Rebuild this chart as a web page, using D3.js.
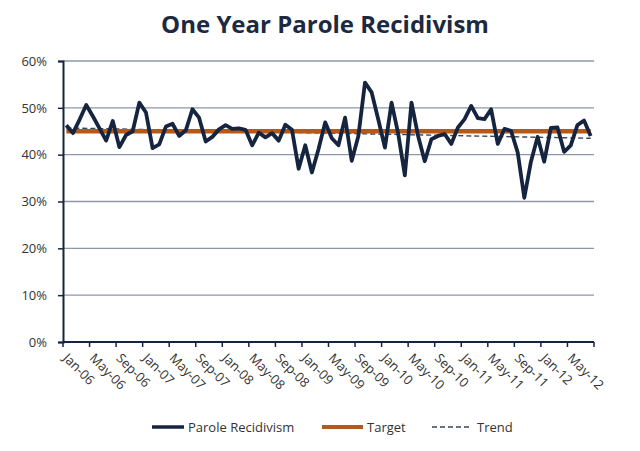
<!DOCTYPE html>
<html><head><meta charset="utf-8">
<script src="https://cdn.jsdelivr.net/npm/d3@7"></script>
<style>
html,body{margin:0;padding:0;background:#fff;}
svg{display:block;font-family:"Open Sans","Noto Sans",sans-serif;}
</style></head>
<body><svg id="c" width="640" height="451"></svg>
<script>
const months = [
"Jan-06","Feb-06","Mar-06","Apr-06","May-06","Jun-06","Jul-06","Aug-06","Sep-06","Oct-06","Nov-06","Dec-06",
"Jan-07","Feb-07","Mar-07","Apr-07","May-07","Jun-07","Jul-07","Aug-07","Sep-07","Oct-07","Nov-07","Dec-07",
"Jan-08","Feb-08","Mar-08","Apr-08","May-08","Jun-08","Jul-08","Aug-08","Sep-08","Oct-08","Nov-08","Dec-08",
"Jan-09","Feb-09","Mar-09","Apr-09","May-09","Jun-09","Jul-09","Aug-09","Sep-09","Oct-09","Nov-09","Dec-09",
"Jan-10","Feb-10","Mar-10","Apr-10","May-10","Jun-10","Jul-10","Aug-10","Sep-10","Oct-10","Nov-10","Dec-10",
"Jan-11","Feb-11","Mar-11","Apr-11","May-11","Jun-11","Jul-11","Aug-11","Sep-11","Oct-11","Nov-11","Dec-11",
"Jan-12","Feb-12","Mar-12","Apr-12","May-12","Jun-12","Jul-12","Aug-12"];
const recidivism = [
46.3,44.6,47.5,50.6,48.2,45.6,43.0,47.2,41.6,44.2,45.0,51.1,
49.0,41.4,42.2,46.0,46.6,44.0,45.2,49.7,47.9,42.8,43.8,45.4,
46.3,45.5,45.6,45.3,42.0,44.7,43.7,44.6,43.0,46.4,45.3,37.0,
42.0,36.2,41.2,46.9,43.5,42.0,47.9,38.7,44.0,55.4,53.3,47.5,
41.5,51.1,44.5,35.6,51.1,44.0,38.6,43.3,44.0,44.4,42.3,45.8,
47.6,50.4,47.8,47.6,49.7,42.3,45.5,45.1,40.5,30.8,38.5,43.8,
38.5,45.7,45.8,40.6,42.0,46.3,47.3,44.0];
const targetValue = [45];
const trendEnds = [45.7, 43.5];
const yTicks = [0,10,20,30,40,50,60];
const xLabels = ["Jan-06","May-06","Sep-06","Jan-07","May-07","Sep-07","Jan-08","May-08","Sep-08","Jan-09","May-09","Sep-09","Jan-10","May-10","Sep-10","Jan-11","May-11","Sep-11","Jan-12","May-12"];
const legendItems = ["Parole Recidivism","Target","Trend"];

const svg = d3.select("#c");
const L=63,R=594,T=61,B=342;
const navy="#16253f", orange="#b5591a", grid="#8d97a6";
const x = d3.scaleBand().domain(months).range([L,R]).paddingInner(0).paddingOuter(0);
const xc = d => x(d)+x.bandwidth()/2;
const y = d3.scaleLinear().domain([0,60]).range([B,T]);

svg.append("text").attr("x",325).attr("y",33).attr("text-anchor","middle")
  .attr("font-size",24).attr("font-weight",700).attr("fill","#1c2940")
  .text("One Year Parole Recidivism");

// gridlines
svg.append("g").selectAll("line").data(yTicks.filter(d=>d>0)).join("line")
  .attr("x1",L).attr("x2",R).attr("y1",d=>y(d)).attr("y2",d=>y(d))
  .attr("stroke",grid).attr("stroke-width",1.3);

// y axis
const ya = svg.append("g").attr("transform",`translate(${L},0)`)
  .call(d3.axisLeft(y).tickValues(yTicks).tickFormat(d=>d+"%").tickSize(5).tickPadding(11));
ya.select(".domain").attr("stroke",navy).attr("stroke-width",2);
ya.selectAll(".tick line").attr("stroke",navy).attr("stroke-width",1.5);
ya.selectAll("text").attr("font-size",13).attr("fill","#333").attr("font-family","Open Sans, sans-serif");

// x axis
const xa = svg.append("g").attr("transform",`translate(0,${B})`);
xa.append("line").attr("x1",L).attr("x2",R).attr("stroke",navy).attr("stroke-width",2);
const tickPos = months.filter((d,i)=>i%4===0).map(d=>x(d)).concat([R]);
xa.selectAll("line.t").data(tickPos).join("line").attr("class","t")
  .attr("x1",d=>d).attr("x2",d=>d).attr("y1",0).attr("y2",5)
  .attr("stroke",navy).attr("stroke-width",1.5);
xa.selectAll("text").data(xLabels).join("text")
  .attr("transform",d=>`translate(${xc(d)-4},${17}) rotate(45)`)
  .attr("text-anchor","start").attr("font-size",13).attr("fill","#333")
  .text(d=>d);

// trend
svg.append("line").attr("x1",xc(months[0])).attr("x2",xc(months[months.length-1]))
  .attr("y1",y(trendEnds[0])).attr("y2",y(trendEnds[1]))
  .attr("stroke","#3a4456").attr("stroke-width",1.4).attr("stroke-dasharray","5,3");

// target
svg.append("path").datum(months)
  .attr("d",d3.line().x(xc).y(()=>y(targetValue[0])))
  .attr("fill","none").attr("stroke",orange).attr("stroke-width",4.5);

// recidivism
svg.append("path").datum(recidivism)
  .attr("d",d3.line().x((d,i)=>xc(months[i])).y(d=>y(d)))
  .attr("fill","none").attr("stroke",navy).attr("stroke-width",3.8).attr("stroke-linejoin","round");

// legend
const lg = svg.append("g").attr("font-size",13).attr("fill","#333");
lg.append("line").attr("x1",152).attr("x2",184).attr("y1",427).attr("y2",427).attr("stroke",navy).attr("stroke-width",3.5);
lg.append("text").attr("x",188).attr("y",431.5).text(legendItems[0]);
lg.append("line").attr("x1",322).attr("x2",363).attr("y1",427).attr("y2",427).attr("stroke",orange).attr("stroke-width",4);
lg.append("text").attr("x",367).attr("y",431.5).text(legendItems[1]);
lg.append("line").attr("x1",432).attr("x2",470).attr("y1",427).attr("y2",427).attr("stroke","#3a4456").attr("stroke-width",1.4).attr("stroke-dasharray","5,3");
lg.append("text").attr("x",477).attr("y",431.5).text(legendItems[2]);
</script></body></html>
